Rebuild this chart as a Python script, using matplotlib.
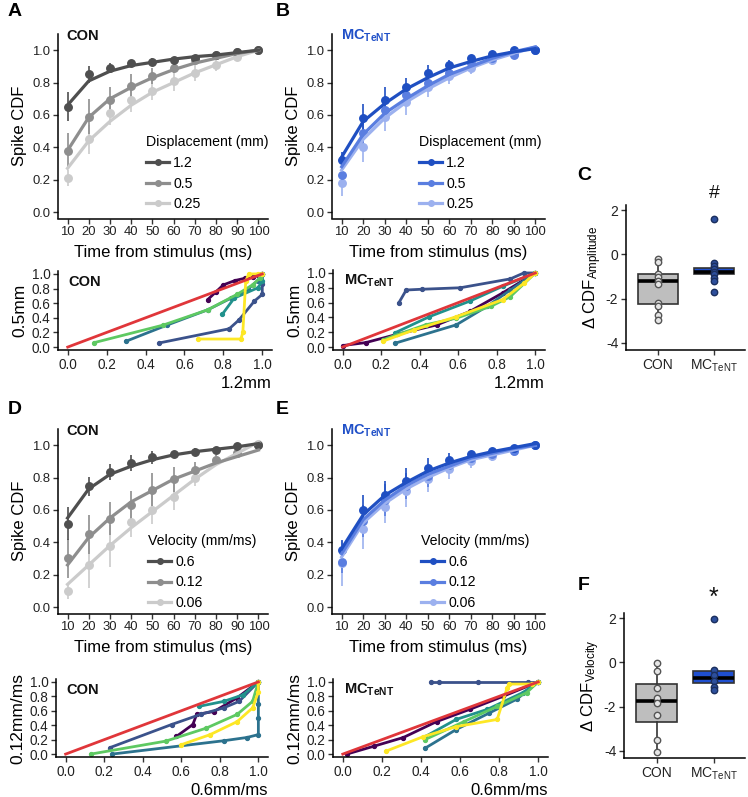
import matplotlib
matplotlib.use("Agg")
import matplotlib.pyplot as plt
import numpy as np

plt.rcParams['font.family'] = ['Liberation Sans', 'DejaVu Sans']
plt.rcParams['mathtext.fontset'] = 'custom'
plt.rcParams['mathtext.rm'] = 'Liberation Sans'
plt.rcParams['mathtext.it'] = 'Liberation Sans:italic'
plt.rcParams['mathtext.bf'] = 'Liberation Sans:bold'
plt.rcParams['axes.unicode_minus'] = False

# ---------------- data ----------------
time_ms = [10, 20, 30, 40, 50, 60, 70, 80, 90, 100]

# Panel A (CON, displacement)
disp_labels = ['1.2', '0.5', '0.25']
A_mean = [[0.65, 0.85, 0.89, 0.92, 0.93, 0.94, 0.95, 0.97, 0.99, 1.00],
          [0.38, 0.59, 0.69, 0.78, 0.84, 0.89, 0.94, 0.97, 0.99, 1.00],
          [0.21, 0.45, 0.61, 0.69, 0.75, 0.81, 0.86, 0.91, 0.96, 1.00]]
A_sem = [[0.09, 0.05, 0.03, 0.02, 0.02, 0.015, 0.01, 0.01, 0.01, 0.005],
         [0.11, 0.11, 0.08, 0.07, 0.05, 0.03, 0.02, 0.02, 0.01, 0.005],
         [0.05, 0.09, 0.07, 0.07, 0.06, 0.06, 0.05, 0.04, 0.02, 0.005]]
A_fit = [[0.66, 0.81, 0.87, 0.905, 0.925, 0.945, 0.96, 0.97, 0.985, 1.00],
         [0.38, 0.585, 0.70, 0.77, 0.83, 0.88, 0.92, 0.95, 0.98, 1.00],
         [0.27, 0.44, 0.56, 0.66, 0.74, 0.80, 0.86, 0.91, 0.96, 1.00]]

# Panel B (MC_TeNT, displacement)
B_mean = [[0.32, 0.58, 0.69, 0.77, 0.86, 0.91, 0.95, 0.975, 1.00, 1.00],
          [0.23, 0.49, 0.63, 0.72, 0.80, 0.86, 0.92, 0.95, 0.97, 1.00],
          [0.18, 0.40, 0.59, 0.68, 0.77, 0.84, 0.89, 0.94, 0.975, 1.00]]
B_sem = [[0.05, 0.09, 0.08, 0.06, 0.05, 0.03, 0.02, 0.01, 0.01, 0.005],
         [0.05, 0.07, 0.07, 0.06, 0.05, 0.04, 0.03, 0.02, 0.01, 0.005],
         [0.08, 0.09, 0.09, 0.08, 0.06, 0.05, 0.04, 0.03, 0.02, 0.005]]
B_fit = [[0.34, 0.56, 0.67, 0.76, 0.83, 0.89, 0.93, 0.965, 0.99, 1.01],
         [0.28, 0.48, 0.61, 0.70, 0.78, 0.85, 0.90, 0.95, 0.99, 1.02],
         [0.26, 0.45, 0.58, 0.68, 0.76, 0.83, 0.89, 0.94, 0.98, 1.02]]

# Panel D (CON, velocity)
vel_labels = ['0.6', '0.12', '0.06']
D_mean = [[0.515, 0.746, 0.835, 0.89, 0.924, 0.945, 0.96, 0.973, 0.994, 1.00],
          [0.30, 0.45, 0.546, 0.63, 0.726, 0.788, 0.845, 0.91, 0.95, 1.00],
          [0.10, 0.26, 0.375, 0.525, 0.60, 0.68, 0.80, 0.91, 0.95, 1.01]]
D_sem = [[0.10, 0.06, 0.05, 0.05, 0.04, 0.02, 0.02, 0.01, 0.01, 0.005],
         [0.12, 0.12, 0.10, 0.09, 0.10, 0.08, 0.05, 0.03, 0.02, 0.005],
         [0.05, 0.14, 0.13, 0.09, 0.09, 0.08, 0.05, 0.03, 0.02, 0.005]]
D_fit = [[0.55, 0.73, 0.82, 0.87, 0.91, 0.94, 0.96, 0.975, 0.99, 1.01],
         [0.26, 0.43, 0.55, 0.65, 0.72, 0.79, 0.84, 0.89, 0.93, 0.97],
         [0.14, 0.26, 0.38, 0.49, 0.59, 0.69, 0.79, 0.88, 0.95, 1.02]]

# Panel E (MC_TeNT, velocity)
E_mean = [[0.353, 0.60, 0.69, 0.776, 0.86, 0.91, 0.945, 0.965, 0.985, 1.00],
          [0.28, 0.53, 0.66, 0.75, 0.81, 0.88, 0.92, 0.945, 0.965, 1.00],
          [0.27, 0.48, 0.62, 0.72, 0.79, 0.85, 0.90, 0.935, 0.965, 1.00]]
E_sem = [[0.06, 0.09, 0.09, 0.08, 0.06, 0.04, 0.02, 0.02, 0.01, 0.005],
         [0.07, 0.10, 0.10, 0.08, 0.07, 0.05, 0.04, 0.03, 0.02, 0.005],
         [0.14, 0.12, 0.10, 0.10, 0.08, 0.06, 0.04, 0.03, 0.02, 0.005]]
E_fit = [[0.36, 0.57, 0.69, 0.77, 0.84, 0.89, 0.93, 0.96, 0.985, 1.01],
         [0.33, 0.54, 0.66, 0.75, 0.82, 0.87, 0.92, 0.95, 0.98, 1.00],
         [0.31, 0.52, 0.64, 0.73, 0.80, 0.86, 0.91, 0.94, 0.97, 1.00]]

# Phase plots: per-cell CDF trajectories (x = high stim, y = low stim)
cell_colors = ['#440154', '#3b528b', '#2c728e', '#21918c', '#5ec962', '#fde725']
Abot_x = [[0.72, 0.76, 0.80, 0.86, 0.91, 0.95, 0.98, 1.00],
          [0.47, 0.83, 0.88, 0.96, 1.00, 1.00, 1.00],
          [0.30, 0.51, 0.72, 0.84, 0.925, 0.977, 1.00],
          [0.795, 0.856, 0.977, 1.00, 1.00],
          [0.135, 0.49, 0.72, 0.87, 0.95, 0.99, 1.00],
          [0.67, 0.89, 0.90, 0.915, 0.93, 0.98, 1.00]]
Abot_y = [[0.65, 0.75, 0.85, 0.91, 0.94, 0.96, 0.98, 1.00],
          [0.056, 0.25, 0.37, 0.63, 0.72, 0.86, 1.00],
          [0.08, 0.30, 0.51, 0.67, 0.79, 0.91, 1.00],
          [0.45, 0.67, 0.81, 0.90, 1.00],
          [0.06, 0.30, 0.51, 0.72, 0.85, 0.95, 1.00],
          [0.11, 0.11, 0.20, 0.90, 1.00, 1.00, 1.00]]

Bbot_x = [[0.00, 0.12, 0.28, 0.49, 0.66, 0.83, 1.00],
          [0.29, 0.33, 0.41, 0.61, 0.87, 0.94, 1.00],
          [0.27, 0.59, 0.75, 0.87, 1.00],
          [0.27, 0.45, 0.66, 0.83, 1.00],
          [0.21, 0.43, 0.59, 0.77, 0.87, 1.00],
          [0.21, 0.37, 0.59, 0.83, 0.94, 1.00]]
Bbot_y = [[0.02, 0.06, 0.17, 0.30, 0.48, 0.73, 1.00],
          [0.59, 0.77, 0.78, 0.80, 0.92, 1.00, 1.00],
          [0.05, 0.30, 0.55, 0.77, 1.00],
          [0.19, 0.41, 0.62, 0.82, 1.00],
          [0.10, 0.30, 0.39, 0.55, 0.68, 1.00],
          [0.08, 0.23, 0.41, 0.64, 0.86, 1.00]]

Dbot_x = [[0.575, 0.66, 0.68, 0.77, 0.89, 1.00],
          [0.23, 0.55, 0.70, 0.82, 0.90, 1.00],
          [0.24, 0.82, 0.94, 1.00, 1.00, 1.00, 1.00],
          [0.69, 0.82, 0.92, 1.00],
          [0.13, 0.52, 0.73, 0.89, 0.97, 1.00],
          [0.60, 0.75, 0.89, 0.97, 1.00, 1.00]]
Dbot_y = [[0.245, 0.41, 0.55, 0.59, 0.78, 1.00],
          [0.09, 0.41, 0.55, 0.64, 0.73, 1.00],
          [0.00, 0.185, 0.23, 0.27, 0.50, 0.69, 1.00],
          [0.66, 0.73, 0.82, 1.00],
          [0.00, 0.18, 0.36, 0.55, 0.73, 1.00],
          [0.13, 0.27, 0.45, 0.64, 0.86, 1.00]]

Ebot_x = [[0.02, 0.16, 0.31, 0.48, 0.65, 0.82, 1.00],
          [0.45, 0.49, 0.69, 0.95, 1.00],
          [0.42, 0.58, 0.75, 0.89, 1.00],
          [0.42, 0.58, 0.74, 0.92, 1.00],
          [0.42, 0.62, 0.79, 0.94, 1.00],
          [0.22, 0.41, 0.58, 0.79, 0.84, 0.85, 0.97, 1.00]]
Ebot_y = [[0.00, 0.11, 0.23, 0.45, 0.62, 0.80, 1.00],
          [1.00, 1.00, 1.00, 1.00, 1.00],
          [0.08, 0.34, 0.57, 0.76, 1.00],
          [0.24, 0.48, 0.62, 0.85, 1.00],
          [0.20, 0.45, 0.66, 0.85, 1.00],
          [0.04, 0.24, 0.38, 0.48, 0.91, 0.97, 0.97, 1.00]]

# Delta CDF boxplots
groups = ['CON', r'MC$_{\mathrm{TeNT}}$']
C_con = [-0.23, -0.35, -0.90, -1.00, -1.20, -1.35, -2.20, -2.33, -2.75, -2.96]
C_mc = [1.58, -0.40, -0.53, -0.68, -0.80, -0.90, -1.05, -1.20, -1.70]
C_box = [dict(med=-1.22, q1=-2.25, q3=-0.90, whislo=-2.96, whishi=-0.23),
         dict(med=-0.78, q1=-0.90, q3=-0.60, whislo=-1.20, whishi=-0.40)]
F_con = [-0.05, -0.39, -1.17, -1.62, -1.85, -2.38, -3.50, -4.03]
F_mc = [1.94, -0.35, -0.57, -0.83, -1.10, -1.25]
F_box = [dict(med=-1.74, q1=-2.68, q3=-0.99, whislo=-4.03, whishi=-0.05),
         dict(med=-0.72, q1=-0.92, q3=-0.38, whislo=-1.25, whishi=-0.35)]

gray_cols = ['#4f4f4f', '#8e8e8e', '#cbcbcb']
blue_cols = ['#1f4fc2', '#5a7ee0', '#9cb1ef']

# ---------------- figure ----------------
W, H = 748, 797
fig = plt.figure(figsize=(W / 100, H / 100), dpi=100)


def px_axes(l, t, r, b):
    return fig.add_axes([l / W, 1 - b / H, (r - l) / W, (b - t) / H])


def style(ax, fs):
    for s in ['top', 'right']:
        ax.spines[s].set_visible(False)
    for s in ['left', 'bottom']:
        ax.spines[s].set_linewidth(1.1)
    ax.tick_params(direction='out', length=3.5, width=1.0, labelsize=fs,
                   colors='#333333', labelcolor='#222222', pad=2)


def main_panel(ax, means, sems, fits, cols, labels, legtitle, tag, tagcol, legx, legy):
    for i in [2, 1, 0]:
        ax.errorbar(time_ms, means[i], yerr=sems[i], fmt='o', color=cols[i],
                    ms=5.4, elinewidth=1.2, capsize=0, zorder=3)
        ax.plot(time_ms, fits[i], '-', color=cols[i], lw=2.3, zorder=4)
    handles = [plt.Line2D([], [], color=cols[i], lw=2.3, marker='o', ms=4)
               for i in range(3)]
    ax.legend(handles, labels, title=legtitle, loc='upper left',
              bbox_to_anchor=(legx, legy), frameon=False, fontsize=10.2,
              title_fontsize=10.2, alignment='left', borderpad=0,
              borderaxespad=0, handlelength=1.6, handletextpad=0.3,
              labelspacing=0.47)
    ax.set_xlim(5.5, 104.5)
    ax.set_ylim(-0.04, 1.1)
    ax.set_xticks(time_ms)
    ax.set_yticks([0, 0.2, 0.4, 0.6, 0.8, 1.0])
    ax.set_yticklabels(['0.0', '0.2', '0.4', '0.6', '0.8', '1.0'])
    style(ax, 9.4)
    ax.set_ylabel('Spike CDF', fontsize=12, labelpad=4)
    ax.set_xlabel('Time from stimulus (ms)', fontsize=12, labelpad=5)
    ax.text(0.04, 0.99, tag, transform=ax.transAxes, fontsize=10.5,
            fontweight='bold', color=tagcol, va='center', ha='left')


def phase_panel(ax, xs, ys, xlabel, ylabel, tag):
    for i in range(len(xs)):
        ax.plot(xs[i], ys[i], '-o', color=cell_colors[i], lw=2.0, ms=2.8,
                solid_capstyle='round', zorder=2)
    ax.plot([0, 1], [0, 1], color='#e0363a', lw=2.0, zorder=3)
    ax.set_xlim(-0.05, 1.05)
    ax.set_ylim(-0.04, 1.04)
    tks = [0, 0.2, 0.4, 0.6, 0.8, 1.0]
    ax.set_xticks(tks)
    ax.set_yticks(tks)
    ax.set_xticklabels(['0.0', '0.2', '0.4', '0.6', '0.8', '1.0'])
    ax.set_yticklabels(['0.0', '0.2', '0.4', '0.6', '0.8', '1.0'])
    style(ax, 9.8)
    ax.set_ylabel(ylabel, fontsize=12.5, labelpad=3)
    ax.set_xlabel(xlabel, fontsize=12, labelpad=2)
    ax.xaxis.set_label_coords(1.0, -0.33)
    ax.xaxis.label.set_horizontalalignment('right')
    ax.text(0.05, 0.86, tag, transform=ax.transAxes, fontsize=10.5,
            fontweight='bold', color='#111111', va='center', ha='left')


def box_panel(ax, stats, con, mc, ylabel, mark, markfs):
    bx = ax.bxp(stats, positions=[1, 2], widths=0.72, patch_artist=True,
                showfliers=False, showcaps=False,
                boxprops=dict(linewidth=1.2, edgecolor='#333333'),
                whiskerprops=dict(linewidth=1.2, color='#333333'),
                medianprops=dict(linewidth=2.6, color='black'))
    bx['boxes'][0].set_facecolor('#bebebe')
    bx['boxes'][1].set_facecolor('#1f4fd0')
    ax.plot([1] * len(con), con, 'o', ms=4.6, mfc='#e6e6e6', mec='#555555',
            mew=1.0, zorder=4)
    ax.plot([2] * len(mc), mc, 'o', ms=4.6, mfc='#2d4f9c', mec='#1b2f5e',
            mew=1.0, zorder=4)
    ax.set_xlim(0.43, 2.55)
    ax.set_ylim(-4.32, 2.23)
    ax.set_yticks([-4, -2, 0, 2])
    ax.set_xticks([1, 2])
    ax.set_xticklabels(groups)
    style(ax, 10)
    ax.set_ylabel(ylabel, fontsize=12, labelpad=1)
    ax.text(2, 2.35, mark, ha='center', va='bottom', fontsize=markfs,
            color='#111111')


axA = px_axes(58, 34, 268, 218.5)
main_panel(axA, A_mean, A_sem, A_fit, gray_cols, disp_labels,
           'Displacement (mm)', 'CON', '#111111', 0.42, 0.45)
axB = px_axes(332, 34, 545, 218.5)
main_panel(axB, B_mean, B_sem, B_fit, blue_cols, disp_labels,
           'Displacement (mm)', r'$\mathbf{MC}_{\mathbf{TeNT}}$', '#2050c8', 0.41, 0.45)
axD = px_axes(58, 429, 268, 613.5)
main_panel(axD, D_mean, D_sem, D_fit, gray_cols, vel_labels,
           'Velocity (mm/ms)', 'CON', '#111111', 0.43, 0.43)
axE = px_axes(332, 429, 545, 613.5)
main_panel(axE, E_mean, E_sem, E_fit, blue_cols, vel_labels,
           'Velocity (mm/ms)', r'$\mathbf{MC}_{\mathbf{TeNT}}$', '#2050c8', 0.42, 0.43)

axAb = px_axes(58, 271, 272, 350)
phase_panel(axAb, Abot_x, Abot_y, '1.2mm', '0.5mm', 'CON')
axBb = px_axes(333, 270, 545, 350)
phase_panel(axBb, Bbot_x, Bbot_y, '1.2mm', '0.5mm', r'$\mathbf{MC}_{\mathbf{TeNT}}$')
axDb = px_axes(56, 679, 268, 757)
phase_panel(axDb, Dbot_x, Dbot_y, '0.6mm/ms', '0.12mm/ms', 'CON')
axEb = px_axes(333, 679, 548, 757)
phase_panel(axEb, Ebot_x, Ebot_y, '0.6mm/ms', '0.12mm/ms', r'$\mathbf{MC}_{\mathbf{TeNT}}$')

axC = px_axes(626, 205, 745, 350)
box_panel(axC, C_box, C_con, C_mc, r'Δ CDF$_{\mathrm{Amplitude}}$', '#', 14)
axF = px_axes(624, 613, 745, 758)
box_panel(axF, F_box, F_con, F_mc, r'Δ CDF$_{\mathrm{Velocity}}$', '*', 18)

for lab, x, y in [('A', 8, 12), ('B', 276, 12), ('C', 577, 176),
                  ('D', 8, 409), ('E', 276, 409), ('F', 578, 585)]:
    fig.text(x / W, 1 - y / H, lab, fontsize=14, fontweight='bold',
             va='center', ha='left')

fig.savefig('out.png', dpi=100)
